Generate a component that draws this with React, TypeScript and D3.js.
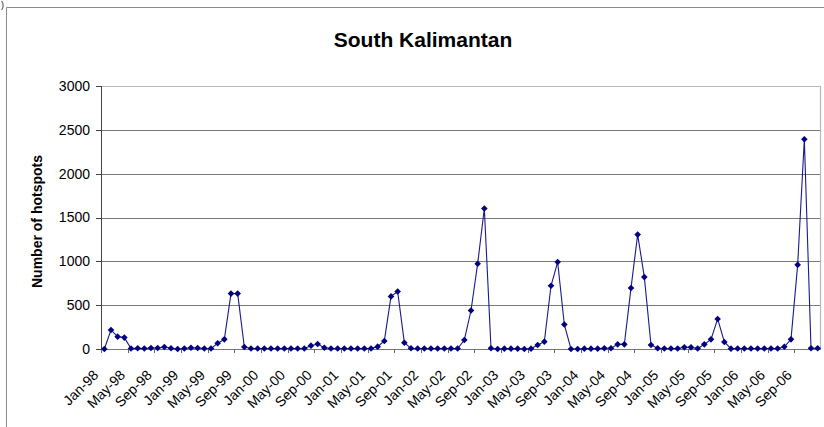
import React from "react";
import * as d3 from "d3";

const years = ["98", "99", "00", "01", "02", "03", "04", "05", "06"];
const monthNames = ["Jan", "Feb", "Mar", "Apr", "May", "Jun", "Jul", "Aug", "Sep", "Oct", "Nov", "Dec"];
const months: string[] = years.flatMap((y) => monthNames.map((m) => `${m}-${y}`));

const hotspots1998 = [0, 217, 141, 130, 5, 8, 5, 12, 12, 23, 8, 0];
const hotspots1999 = [5, 15, 12, 5, 5, 65, 110, 632, 632, 23, 5, 5];
const hotspots2000 = [5, 5, 5, 5, 5, 5, 5, 38, 57, 15, 5, 5];
const hotspots2001 = [5, 5, 5, 5, 5, 27, 92, 600, 656, 72, 8, 5];
const hotspots2002 = [5, 5, 5, 5, 5, 5, 103, 439, 973, 1603, 8, 0];
const hotspots2003 = [4, 4, 4, 0, 4, 46, 84, 721, 992, 279, 0, 0];
const hotspots2004 = [4, 4, 4, 8, 8, 53, 53, 695, 1305, 820, 46, 8];
const hotspots2005 = [5, 5, 5, 19, 19, 5, 53, 110, 343, 80, 4, 5];
const hotspots2006 = [5, 5, 5, 5, 5, 5, 25, 110, 960, 2393, 8, 8];

const values = [
  ...hotspots1998, ...hotspots1999, ...hotspots2000, ...hotspots2001, ...hotspots2002,
  ...hotspots2003, ...hotspots2004, ...hotspots2005, ...hotspots2006,
];

const yTicks = [0, 500, 1000, 1500, 2000, 2500, 3000];
const labelEvery = 4;

export default function App() {
  const W = 824, H = 427;
  const left = 101, right = 821, top = 86, bottom = 349;
  const x = d3.scaleBand<string>().domain(months).range([left, right]).padding(0);
  const bw = x.bandwidth();
  const cx = (m: string) => (x(m) as number) + bw / 2;
  const y = d3.scaleLinear().domain([0, 3000]).range([bottom, top]);
  const data = months.map((m, i) => ({ m, v: values[i] }));
  const line = d3.line<{ m: string; v: number }>().x((d) => cx(d.m)).y((d) => y(d.v));
  const font = "'Liberation Sans', Arial, sans-serif";
  const diamond = (px: number, py: number, r: number) =>
    `M${px},${py - r}L${px + r},${py}L${px},${py + r}L${px - r},${py}Z`;

  return (
    <svg width={W} height={H} style={{ position: "absolute", left: 0, top: 0, background: "#fff" }} fontFamily={font}>
      <rect x={0} y={0} width={W} height={H} fill="#fff" />
      <text x={1} y={8} fontSize={9} fill="#222">)</text>
      {/* chart frame */}
      <line x1={6.5} y1={7.5} x2={W} y2={7.5} stroke="#8a8a8a" />
      <line x1={6.5} y1={7.5} x2={6.5} y2={H} stroke="#8a8a8a" />
      <text x={423} y={47} textAnchor="middle" fontSize={21} fontWeight="bold" fill="#000">South Kalimantan</text>
      {/* gridlines */}
      {yTicks.filter((t) => t > 0 && t < 3000).map((t) => (
        <line key={t} x1={left} x2={right} y1={Math.round(y(t)) + 0.5} y2={Math.round(y(t)) + 0.5} stroke="#7a7a7a" strokeWidth={1.2} />
      ))}
      {/* plot border top/right */}
      <line x1={left} x2={right} y1={top + 0.5} y2={top + 0.5} stroke="#b8b8b8" strokeWidth={1.2} />
      <line x1={right - 0.5} x2={right - 0.5} y1={top} y2={bottom} stroke="#b8b8b8" strokeWidth={1.2} />
      {/* y axis */}
      <line x1={left + 0.5} x2={left + 0.5} y1={top} y2={bottom} stroke="#444" />
      {yTicks.map((t) => (
        <g key={t}>
          <line x1={96} x2={left} y1={Math.round(y(t)) + 0.5} y2={Math.round(y(t)) + 0.5} stroke="#444" />
          <text x={90} y={y(t)} dy="0.35em" textAnchor="end" fontSize={14} fill="#000">{t}</text>
        </g>
      ))}
      <text transform={`translate(42,${(top + bottom) / 2 + 4}) rotate(-90)`} textAnchor="middle" fontSize={14} fontWeight="bold" fill="#000">Number of hotspots</text>
      {/* x axis */}
      <line x1={left} x2={right} y1={bottom + 0.5} y2={bottom + 0.5} stroke="#777" />
      {months.map((m, i) => (i % labelEvery === 0 ? (
        <line key={"t" + m} x1={Math.round(x(m) as number) + 0.5} x2={Math.round(x(m) as number) + 0.5} y1={bottom} y2={bottom + 4} stroke="#666" />
      ) : null))}
      {months.map((m, i) => (i % labelEvery === 0 ? (
        <text key={"l" + m} transform={`translate(${cx(m) - 5},${bottom + 27}) rotate(-45)`} textAnchor="end" fontSize={14} fill="#000">{m}</text>
      ) : null))}
      {/* series */}
      <path d={line(data) as string} fill="none" stroke="#1a1a8c" strokeWidth={1.1} />
      {data.map((d) => (
        <path key={d.m} d={diamond(cx(d.m), y(d.v), 3.3)} fill="#000080" />
      ))}
    </svg>
  );
}
